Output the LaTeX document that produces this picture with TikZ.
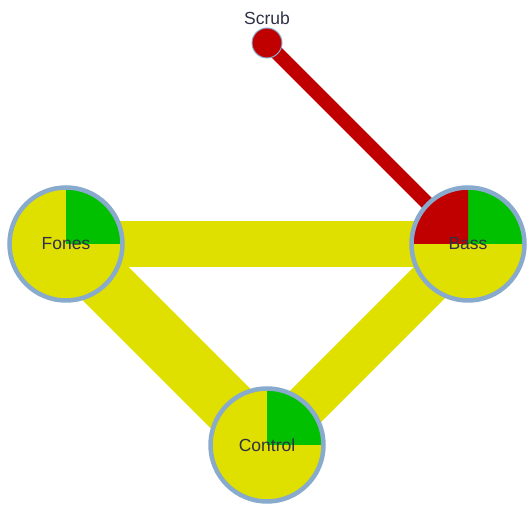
\documentclass[tikz,border=0pt]{standalone}
\usepackage{fontspec}
\setmainfont{Liberation Sans}
\usetikzlibrary{backgrounds}
\definecolor{pieyellow}{HTML}{DFDF00}
\definecolor{piegreen}{HTML}{00C000}
\definecolor{piered}{HTML}{C00000}
\definecolor{ringblue}{HTML}{88AACC}
\definecolor{labeltext}{HTML}{2E3246}
\tikzset{
  x=1pt, y=1pt,
  labelfont/.style={font=\fontsize{17.5}{20}\selectfont, text=labeltext},
  pienode/.style={circle, minimum size=113pt, inner sep=0pt, fill=pieyellow,
    draw=ringblue, line width=4.5pt, labelfont},
  yellowedge/.style={draw=pieyellow, line cap=butt},
  rededge/.style={draw=piered, line width=14pt},
}
\newcommand{\piequad}[3]{\fill[#1] (path picture bounding box.center) -- ++(#2:57pt) arc[start angle=#2, end angle=#3, radius=57pt] -- cycle;}
\begin{document}
\begin{tikzpicture}
\useasboundingbox (0,0) rectangle (527,505);
\node[pienode, path picture={\piequad{piegreen}{0}{90}}] (fones) at (66,261) {Fones};
\node[pienode, path picture={\piequad{piegreen}{0}{90}\piequad{piered}{90}{180}}] (bass) at (468,261) {Bass};
\node[pienode, path picture={\piequad{piegreen}{0}{90}}] (control) at (267,60) {Control};
\node[circle, minimum size=30pt, inner sep=0pt, fill=piered, draw=ringblue, line width=1pt] (scrub) at (267,462) {};
\node[labelfont, anchor=base] (scrublabel) at (267,480) {Scrub};
\begin{pgfonlayer}{background}
\draw[yellowedge, line width=46pt] (fones.center) -- (bass.center);
\draw[yellowedge, line width=56pt] (fones.center) -- (control.center);
\draw[yellowedge, line width=44pt] (bass.center) -- (control.center);
\draw[rededge] (scrub.center) -- (bass.center);
\end{pgfonlayer}
\end{tikzpicture}
\end{document}
